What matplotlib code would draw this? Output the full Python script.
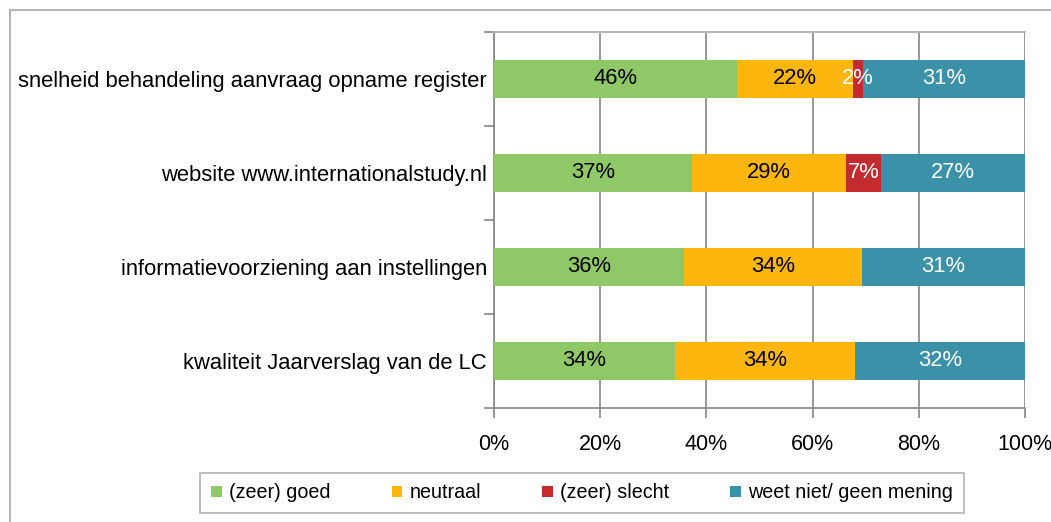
import numpy as np
import matplotlib.pyplot as plt
from matplotlib.lines import Line2D

plt.rcParams['font.family'] = ['Liberation Sans', 'DejaVu Sans']

# Data (percentages)
categories = [
    "snelheid behandeling aanvraag opname register",
    "website www.internationalstudy.nl",
    "informatievoorziening aan instellingen",
    "kwaliteit Jaarverslag van de LC",
]
series_names = ["(zeer) goed", "neutraal", "(zeer) slecht", "weet niet/ geen mening"]
goed = [45.8, 37.3, 35.7, 34.1]
neutraal = [21.8, 28.9, 33.6, 33.8]
slecht = [1.8, 6.7, 0.0, 0.0]
weet_niet = [30.6, 27.1, 30.7, 32.1]

colors = ["#8fc866", "#fdb60d", "#c32b2f", "#3a91a8"]
label_colors = ["black", "black", "white", "white"]
grid_gray = "#868686"

fig = plt.figure(figsize=(10.51, 5.22), dpi=100)
ax = fig.add_axes([494 / 1051, 1 - 408 / 522, (1025 - 494) / 1051, (408 - 32) / 522])

y = np.arange(len(categories))
left = np.zeros(len(categories))
for name, vals, col, lcol in zip(series_names, [goed, neutraal, slecht, weet_niet],
                                 colors, label_colors):
    vals = np.array(vals)
    ax.barh(y, vals, left=left, height=0.41, color=col, label=name, zorder=3)
    for yi, l, v in zip(y, left, vals):
        if v > 0:
            ax.text(l + v / 2, yi, f"{v:.0f}%", ha="center", va="center",
                    color=lcol, fontsize=15.8, zorder=4)
    left += vals

ax.set_xlim(0, 100)
ax.set_ylim(len(categories) - 0.5, -0.5)
ax.set_xticks(np.arange(0, 101, 20))
ax.set_xticklabels([f"{v}%" for v in range(0, 101, 20)], fontsize=15.5)
ax.xaxis.grid(True, color=grid_gray, linewidth=1.2, zorder=0)

# category boundaries get the tick marks, labels sit in the middle
ax.set_yticks(np.arange(-0.5, len(categories), 1.0))
ax.set_yticklabels([])
ax.set_yticks(y, minor=True)
ax.set_yticklabels(categories, minor=True, fontsize=15.8)
ax.tick_params(axis="y", which="major", length=7, color=grid_gray, width=1.2)
ax.tick_params(axis="y", which="minor", length=0, pad=5)
ax.tick_params(axis="x", length=7, color=grid_gray, width=1.2, pad=12)

for s in ["left", "bottom"]:
    ax.spines[s].set_color(grid_gray)
    ax.spines[s].set_linewidth(1.2)
ax.spines["top"].set_color("#b8b8b8")
ax.spines["top"].set_linewidth(1.5)
ax.spines["right"].set_visible(False)

leg = fig.legend(loc="center", bbox_to_anchor=(582 / 1051, 1 - 493 / 522), ncol=4,
                 fontsize=14.2, frameon=True, fancybox=False, handlelength=0.55,
                 handleheight=0.55, handletextpad=0.35, columnspacing=3.1,
                 borderpad=0.55, borderaxespad=0)
leg.get_frame().set_edgecolor("#a0a0a0")
leg.get_frame().set_linewidth(1.2)

# outer chart border (only left and top are inside the image)
fig.add_artist(Line2D([10 / 1051, 10 / 1051], [0, 1 - 10 / 522],
                      transform=fig.transFigure, color="#b4b4b4", linewidth=1.5))
fig.add_artist(Line2D([10 / 1051, 1], [1 - 10 / 522, 1 - 10 / 522],
                      transform=fig.transFigure, color="#b4b4b4", linewidth=1.5))

fig.savefig("out.png", dpi=100)
